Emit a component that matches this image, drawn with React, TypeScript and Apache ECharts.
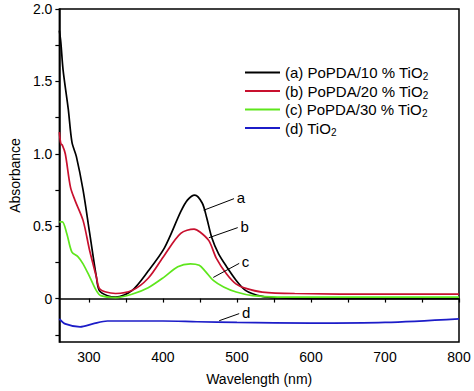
import React, { useEffect, useRef } from "react";
import * as echarts from "echarts";

// Wavelength (nm) / absorbance samples
const wlA = [260, 262, 265, 272, 277, 283, 292, 301, 310, 314, 325, 336, 358, 380, 402, 424, 433, 443, 453, 459, 466, 475, 486, 499, 512, 534, 555, 600, 700, 800];
const absA = [1.85, 1.77, 1.58, 1.31, 1.08, 0.98, 0.75, 0.45, 0.15, 0.055, 0.02, 0.01, 0.055, 0.19, 0.35, 0.6, 0.68, 0.715, 0.66, 0.56, 0.42, 0.31, 0.22, 0.125, 0.055, 0.015, 0.005, 0.0, 0.0, 0.0];

const wlB = [260, 262, 264, 268, 275, 281, 292, 301, 310, 314, 323, 336, 358, 380, 402, 424, 442, 450, 462, 472, 486, 499, 512, 534, 578, 700, 800];
const absB = [1.15, 1.07, 1.06, 1.0, 0.77, 0.68, 0.54, 0.33, 0.15, 0.07, 0.045, 0.035, 0.055, 0.14, 0.3, 0.45, 0.48, 0.46, 0.4, 0.28, 0.17, 0.1, 0.07, 0.045, 0.035, 0.03, 0.03];

const wlC = [260, 264, 270, 277, 285, 292, 301, 310, 316, 336, 358, 380, 402, 420, 437, 449, 457, 468, 482, 499, 521, 555, 700, 800];
const absC = [0.53, 0.53, 0.45, 0.32, 0.29, 0.24, 0.15, 0.055, 0.02, 0.007, 0.03, 0.075, 0.15, 0.22, 0.24, 0.23, 0.19, 0.125, 0.08, 0.045, 0.02, 0.01, 0.01, 0.01];

const wlD = [260, 268, 288, 305, 325, 358, 400, 446, 500, 600, 700, 800];
const absD = [-0.14, -0.175, -0.195, -0.175, -0.155, -0.155, -0.155, -0.16, -0.165, -0.17, -0.165, -0.14];

const seriesNames = ["(a) PoPDA/10 % TiO", "(b) PoPDA/20 % TiO", "(c) PoPDA/30 % TiO", "(d) TiO"];
const seriesColors = ["#000000", "#c8102e", "#5ee61c", "#1c1cc8"];
const curveLabels = ["a", "b", "c", "d"];
// leader lines [startWl, startAbs, endWl, endAbs]
const leaders = [
  [455, 0.61, 496, 0.69],
  [462, 0.42, 501, 0.49],
  [468, 0.146, 503, 0.243],
  [476, -0.153, 503, -0.104],
];

const xLabelValues = [300, 400, 500, 600, 700, 800];
const xTickValues = [300, 350, 400, 450, 500, 550, 600, 650, 700, 750, 800];
const yLabelValues = [0, 0.5, 1.0, 1.5, 2.0];
const yTickValues = [-0.25, 0, 0.25, 0.5, 0.75, 1.0, 1.25, 1.5, 1.75, 2.0];

const FONT = "'Liberation Sans', Arial, sans-serif";

export default function App() {
  const ref = useRef<HTMLDivElement>(null);
  useEffect(() => {
    if (!ref.current) return;
    const chart = echarts.init(ref.current, undefined, { renderer: "svg" });
    const wls = [wlA, wlB, wlC, wlD];
    const abss = [absA, absB, absC, absD];
    const series = seriesNames.map((name, i) => ({
      name,
      type: "line",
      data: wls[i].map((w, j) => [w, abss[i][j]]),
      smooth: 0.3,
      showSymbol: false,
      symbol: "none",
      lineStyle: { color: seriesColors[i], width: 1.7 },
      itemStyle: { color: seriesColors[i] },
      z: 3,
      markLine: {
        silent: true,
        symbol: "none",
        lineStyle: { color: "#000", width: 1, type: "solid" },
        label: {
          show: true,
          position: "end",
          formatter: curveLabels[i],
          color: "#000",
          fontFamily: FONT,
          fontSize: 15,
          distance: 3,
        },
        data: [
          [
            { coord: [leaders[i][0], leaders[i][1]] },
            { coord: [leaders[i][2], leaders[i][3]] },
          ],
        ],
      },
    }));
    chart.setOption({
      animation: false,
      textStyle: { fontFamily: FONT },
      grid: {
        left: 49,
        right: 15,
        top: 9,
        bottom: 49,
        show: true,
        borderColor: "#000",
        borderWidth: 1.5,
      },
      legend: {
        orient: "vertical",
        left: 240,
        top: 60,
        itemWidth: 35,
        itemHeight: 2,
        itemGap: 2,
        icon: "rect",
        data: seriesNames,
        formatter: (n: string) => `{m|${n}}{s|2}`,
        textStyle: {
          color: "#000",
          fontFamily: FONT,
          rich: {
            m: { fontSize: 15, fontFamily: FONT, color: "#000" },
            s: { fontSize: 10, fontFamily: FONT, color: "#000", padding: [8, 0, 0, 0] },
          },
        },
      },
      xAxis: {
        type: "value",
        min: 260,
        max: 800,
        name: "Wavelength (nm)",
        nameLocation: "middle",
        nameGap: 30,
        nameTextStyle: { fontSize: 14, color: "#000", fontFamily: FONT },
        splitLine: { show: false },
        axisLine: { show: true, lineStyle: { color: "#000", width: 1.5 } },
        axisTick: {
          show: true,
          inside: false,
          length: 4,
          customValues: xTickValues,
          lineStyle: { color: "#000", width: 1.2 },
        },
        axisLabel: {
          customValues: xLabelValues,
          fontSize: 14,
          color: "#000",
          fontFamily: FONT,
          margin: 8,
        },
      },
      yAxis: {
        type: "value",
        min: -0.3,
        max: 2.0,
        name: "Absorbance",
        nameLocation: "middle",
        nameGap: 37,
        nameTextStyle: { fontSize: 14, color: "#000", fontFamily: FONT },
        splitLine: { show: false },
        axisLine: { show: true, lineStyle: { color: "#000", width: 1.5 } },
        axisTick: {
          show: true,
          inside: false,
          length: 4,
          customValues: yTickValues,
          lineStyle: { color: "#000", width: 1.2 },
        },
        axisLabel: {
          customValues: yLabelValues,
          fontSize: 14,
          color: "#000",
          fontFamily: FONT,
          margin: 7,
          formatter: (v: number) => (v === 0 ? "0" : v.toFixed(1)),
        },
      },
      series,
    });
    return () => chart.dispose();
  }, []);
  return <div ref={ref} style={{ width: 474, height: 391, position: "absolute", left: 0, top: 0 }} />;
}
